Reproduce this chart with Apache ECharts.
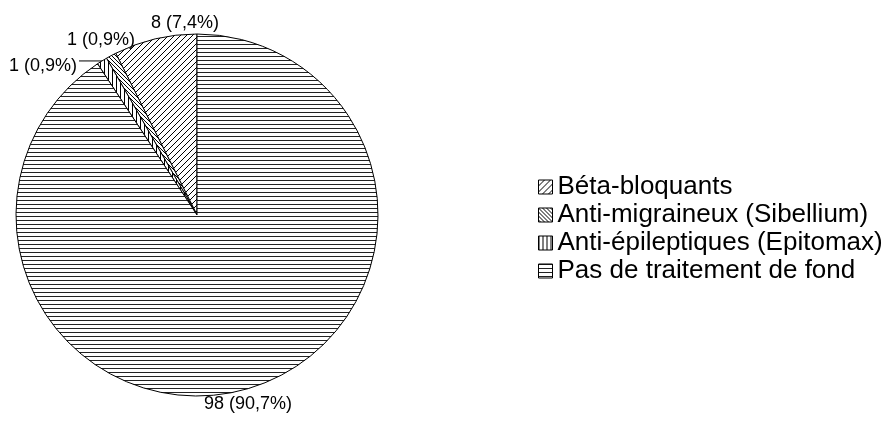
<!DOCTYPE html>
<html><head><meta charset="utf-8">
<script src="https://cdn.jsdelivr.net/npm/echarts@6/dist/echarts.min.js"></script>
<style>html,body{margin:0;padding:0;background:#fff}#c{width:887px;height:421px}</style>
</head><body><div id="c"></div>
<script>
// ---- data ----
const categories = ['Béta-bloquants', 'Anti-migraineux (Sibellium)', 'Anti-épileptiques (Epitomax)', 'Pas de traitement de fond'];
const counts = [8, 1, 1, 98];

// ---- patterns ----
function makePattern(w, h, draw) {
  const c = document.createElement('canvas');
  c.width = w; c.height = h;
  const g = c.getContext('2d');
  g.fillStyle = '#fff'; g.fillRect(0, 0, w, h);
  g.fillStyle = '#000';
  draw(g, w, h);
  return { image: c, repeat: 'repeat' };
}
const patSlash = makePattern(6, 6, (g, w, h) => { for (let i = 0; i < w; i++) g.fillRect(i, h - 1 - i, 1, 1); });
const patBack = makePattern(4, 4, (g, w, h) => { for (let i = 0; i < w; i++) g.fillRect(i, i, 1, 1); });
const patVert = makePattern(4, 4, (g, w, h) => { g.fillRect(0, 0, 1, h); });
const patHoriz = makePattern(4, 4, (g, w, h) => { g.fillStyle = '#222'; g.fillRect(0, 0, w, 1); });
const patterns = [patSlash, patBack, patVert, patHoriz];

// ---- layout ----
const CX = 197, CY = 215, R = 181;
const total = counts.reduce((a, b) => a + b, 0);
const labelPos = [[-12, -192, 'center'], [-96, -175, 'center'], [-120, -149, 'right'], [51, 189, 'center']];

function midAngle(i) {
  let s = 0;
  for (let k = 0; k < i; k++) s += counts[k];
  s += counts[i] / 2;
  return (90 + s / total * 360) * Math.PI / 180;
}

const chart = echarts.init(document.getElementById('c'), null, { renderer: 'canvas' });
chart.setOption({
  animation: false,
  backgroundColor: '#fff',
  legend: {
    orient: 'vertical',
    left: 533,
    top: 168,
    itemWidth: 14,
    itemHeight: 14,
    itemGap: 0,
    icon: 'rect',
    selectedMode: false,
    itemStyle: { borderColor: '#000', borderWidth: 1 },
    textStyle: { fontFamily: 'Liberation Sans, Arial, sans-serif', fontSize: 26, color: '#000', lineHeight: 28 }
  },
  series: [{
    type: 'pie',
    center: [CX, CY],
    radius: R,
    startAngle: 90,
    clockwise: false,
    avoidLabelOverlap: false,
    emphasis: { disabled: true },
    itemStyle: { borderColor: '#000', borderWidth: 1 },
    label: {
      show: true,
      position: 'outside',
      fontFamily: 'Liberation Sans, Arial, sans-serif',
      fontSize: 18,
      color: '#000',
      formatter: p => p.value + ' (' + (p.value / total * 100).toFixed(1).replace('.', ',') + '%)'
    },
    labelLine: { show: false, length: 0, length2: 25, lineStyle: { color: '#000', width: 1 } },
    labelLayout: function (params) {
      const i = params.dataIndex;
      const lp = labelPos[i];
      const out = { x: CX + lp[0], y: CY + lp[1], align: lp[2], verticalAlign: 'middle' };
      if (i === 2) {
        const a = midAngle(i);
        const ax = CX + R * Math.cos(a), ay = CY - R * Math.sin(a);
        out.labelLinePoints = [[ax, ay], [CX + lp[0] + 2, ay], [CX + lp[0] + 2, ay]];
      }
      return out;
    },
    data: categories.map((n, i) => ({
      name: n,
      value: counts[i],
      itemStyle: { color: patterns[i] },
      labelLine: { show: i === 2 }
    }))
  }]
});
</script>
</body></html>
